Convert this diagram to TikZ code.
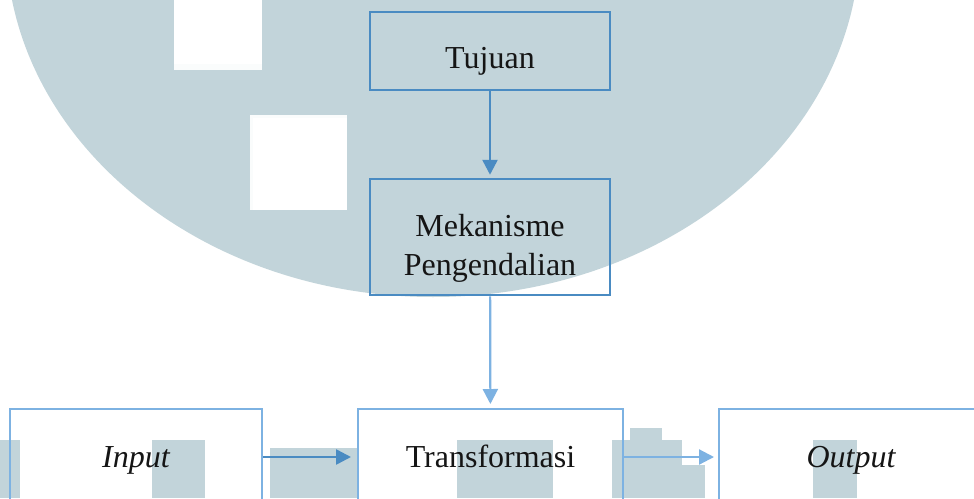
\documentclass[tikz,border=0pt]{standalone}
\usepackage{fontspec}
\setmainfont{Liberation Serif}
\usetikzlibrary{arrows.meta}
\definecolor{wm}{HTML}{C2D4DA}
\definecolor{topblue}{HTML}{4A8BC2}
\definecolor{lowblue}{HTML}{7DB2E2}
\definecolor{txt}{HTML}{151515}
\newcommand{\lowtext}[2]{\raisebox{-#1}[0pt][0pt]{#2}}
\tikzset{
  topbox/.style={draw=topblue, line width=2.5pt, minimum width=240pt, inner sep=0pt, text=txt, font=\fontsize{32}{39}\selectfont},
  lowbox/.style={draw=lowblue, line width=2pt, minimum height=96pt, inner sep=0pt, text=txt, font=\fontsize{32}{39}\selectfont},
  toparrow/.style={draw=topblue, line width=2.5pt, -{Triangle[length=15pt,width=15pt]}},
  lowarrow/.style={draw=lowblue, line width=2.2pt, -{Triangle[length=15pt,width=15pt]}},
  midarrow/.style={draw=topblue, line width=2.5pt, -{Triangle[length=15pt,width=15pt]}},
}
\begin{document}
\begin{tikzpicture}[x=1pt,y=-1pt]
\useasboundingbox (0,0) rectangle (974,498);
\fill[white] (0,0) rectangle (974,498);
\begin{scope}
\clip (0,0) rectangle (974,498);
% watermark
\fill[wm] (433,-60) ellipse[x radius=427, y radius=357];
\fill[white] (174,0) rectangle (262,64);
\fill[white!92!wm] (174,64) rectangle (262,70);
\fill[white] (253,118) rectangle (347,210);
\fill[white!92!wm] (250,115) rectangle (347,118);
\fill[white!92!wm] (250,118) rectangle (253,210);
\fill[wm] (0,440) rectangle (20,498);
\fill[wm] (152,440) rectangle (205,498);
\fill[wm] (270,448) rectangle (358,498);
\fill[wm] (457,440) rectangle (553,498);
\fill[wm] (612,440) rectangle (682,498);
\fill[wm] (630,428) rectangle (662,440);
\fill[wm] (682,465) rectangle (705,498);
\fill[wm] (813,440) rectangle (857,498);
% nodes
\node[topbox, minimum height=78pt] (tuj) at (490,51) {\lowtext{17pt}{Tujuan}};
\node[topbox, minimum height=116pt] (mek) at (490,237) {\lowtext{17pt}{\begin{tabular}{@{}c@{}}Mekanisme\\Pengendalian\end{tabular}}};
\node[lowbox, minimum width=252pt] (inp) at (136,457) {\lowtext{10pt}{\itshape Input}};
\node[lowbox, minimum width=265pt] (tra) at (490.5,457) {\lowtext{10pt}{Transformasi}};
\node[lowbox, minimum width=270pt] (out) at (854,457) {\lowtext{10pt}{\hspace{-6pt}\itshape Output}};
% connectors
\draw[toparrow, shorten >=3pt] (tuj) -- (mek);
\draw[lowarrow, shorten >=4pt] (mek) -- (tra);
\draw[midarrow, shorten >=6pt] (inp) -- (tra);
\draw[lowarrow, shorten >=4pt] (tra) -- (out);
\end{scope}
\end{tikzpicture}
\end{document}
